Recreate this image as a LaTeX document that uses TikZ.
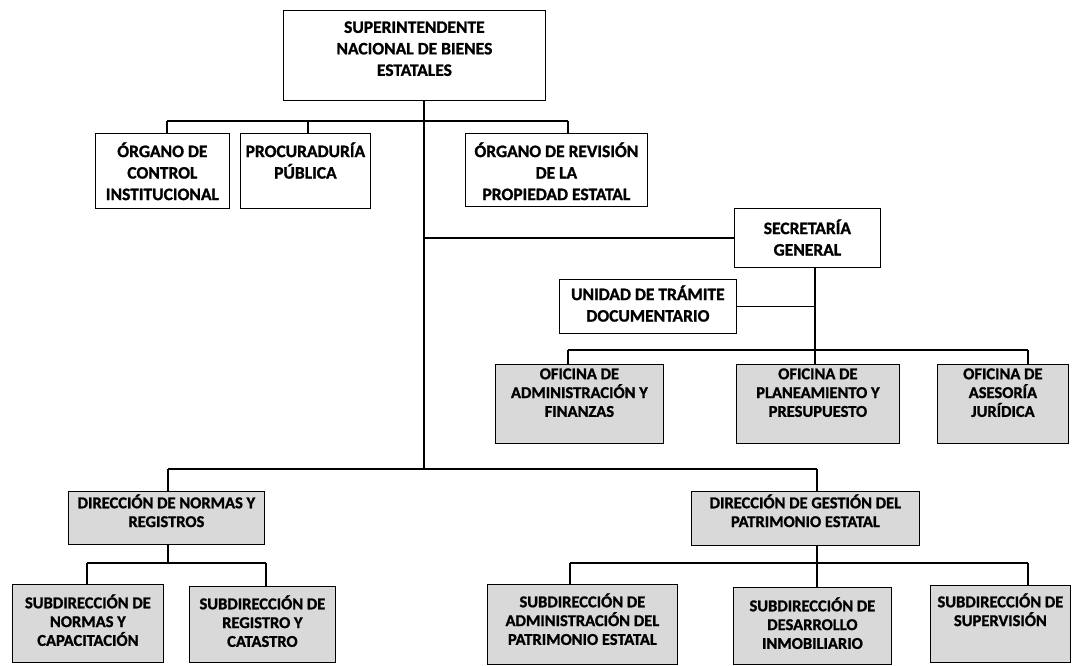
\documentclass[tikz,border=0pt]{standalone}
\usepackage{fontspec}
\setmainfont{Carlito}[BoldFeatures={FakeBold=1.2}]
\newcommand\orgbox[8]{\node[#1, anchor=north west] (#2) at (#3,#4) {\parbox[t][\dimexpr #6pt-#4pt\relax][t]{\dimexpr #5pt-#3pt\relax}{\centering\vspace*{#7pt}#8\par}};}
\tikzset{
  whitebox/.style={draw=black, line width=0.8pt, fill=white, inner sep=0pt,
    font=\bfseries\fontsize{17.5}{21.5}\selectfont},
  graybox/.style={draw=black, line width=0.8pt, fill=black!15, inner sep=0pt,
    font=\bfseries\fontsize{16.5}{18.8}\selectfont},
  conn/.style={line width=1.8pt, black},
}
\begin{document}
\begin{tikzpicture}[x=1pt,y=-1pt]
\useasboundingbox[fill=white] (0,0) rectangle (1077,666);
% top level
\orgbox{whitebox}{sup}{283}{10}{545}{100}{11}{SUPERINTENDENTE\\NACIONAL DE BIENES\\ESTATALES}
\orgbox{whitebox}{ctrl}{95}{133}{229}{208}{9}{ÓRGANO DE\\CONTROL\\INSTITUCIONAL}
\orgbox{whitebox}{proc}{240}{133}{370}{208}{9}{PROCURADURÍA\\PÚBLICA}
\orgbox{whitebox}{rev}{465}{133}{647}{206}{9}{ÓRGANO DE REVISIÓN\\DE LA\\PROPIEDAD ESTATAL}
\orgbox{whitebox}{sec}{734}{208}{880}{267}{11}{SECRETARÍA\\GENERAL}
\orgbox{whitebox}{uni}{559}{279}{736}{333}{6}{UNIDAD DE TRÁMITE\\DOCUMENTARIO}
% oficinas
\orgbox{graybox}{ofadm}{495}{364}{663}{443}{4}{OFICINA DE\\ADMINISTRACIÓN Y\\FINANZAS}
\orgbox{graybox}{ofplan}{736}{364}{899}{443}{4}{OFICINA DE\\PLANEAMIENTO Y\\PRESUPUESTO}
\orgbox{graybox}{ofjur}{937}{364}{1068}{443}{4}{OFICINA DE\\ASESORÍA\\JURÍDICA}
% direcciones
\orgbox{graybox}{dnr}{68}{491}{264}{544}{3}{DIRECCIÓN DE NORMAS Y\\REGISTROS}
\orgbox{graybox}{dgp}{691}{491}{919}{545}{3}{DIRECCIÓN DE GESTIÓN DEL\\PATRIMONIO ESTATAL}
% subdirecciones
\orgbox{graybox}{sn}{12}{584}{163}{662}{10}{SUBDIRECCIÓN DE\\NORMAS Y\\CAPACITACIÓN}
\orgbox{graybox}{sr}{189}{586}{335}{662}{9}{SUBDIRECCIÓN DE\\REGISTRO Y\\CATASTRO}
\orgbox{graybox}{sa}{487}{584}{677}{664}{9}{SUBDIRECCIÓN DE\\ADMINISTRACIÓN DEL\\PATRIMONIO ESTATAL}
\orgbox{graybox}{sd}{733}{587}{891}{664}{10}{SUBDIRECCIÓN DE\\DESARROLLO\\INMOBILIARIO}
\orgbox{graybox}{ss}{930}{585}{1070}{662}{8}{SUBDIRECCIÓN DE\\SUPERVISIÓN}
% junction coordinates
\coordinate (tA) at (167,121);
\coordinate (tP) at (308,121);
\coordinate (tB) at (568,121);
\coordinate (tr) at (424,121);
\coordinate (bA) at (168,469);
\coordinate (bB) at (817,469);
\coordinate (sv) at (815,350);
\coordinate (oA) at (568,350);
\coordinate (oB) at (1028,350);
\coordinate (nA) at (87,563);
\coordinate (nM) at (168,563);
\coordinate (nB) at (266,563);
\coordinate (gA) at (570,563);
\coordinate (gM) at (817,563);
\coordinate (gB) at (1028,563);
% connectors
\draw[conn] (tr |- sup.south) -- (tr |- bA);
\draw[conn] (tA) -- (tB);
\draw[conn] (tA) -- (tA |- ctrl.north);
\draw[conn] (tP) -- (tP |- proc.north);
\draw[conn] (tB) -- (tB |- rev.north);
\draw[conn] (tr |- sec.west) -- (sec.west);
\draw[conn] (sv |- sec.south) -- (sv);
\draw[conn] (uni.east) -- (uni.east -| sv);
\draw[conn] (oA) -- (oB);
\draw[conn] (oA) -- (oA |- ofadm.north);
\draw[conn] (sv) -- (sv |- ofplan.north);
\draw[conn] (oB) -- (oB |- ofjur.north);
\draw[conn] (bA) -- (bB);
\draw[conn] (bA) -- (bA |- dnr.north);
\draw[conn] (bB) -- (bB |- dgp.north);
\draw[conn] (nM |- dnr.south) -- (nM);
\draw[conn] (nA) -- (nB);
\draw[conn] (nA) -- (nA |- sn.north);
\draw[conn] (nB) -- (nB |- sr.north);
\draw[conn] (gM |- dgp.south) -- (gM);
\draw[conn] (gA) -- (gB);
\draw[conn] (gA) -- (gA |- sa.north);
\draw[conn] (gM) -- (gM |- sd.north);
\draw[conn] (gB) -- (gB |- ss.north);
\end{tikzpicture}
\end{document}
